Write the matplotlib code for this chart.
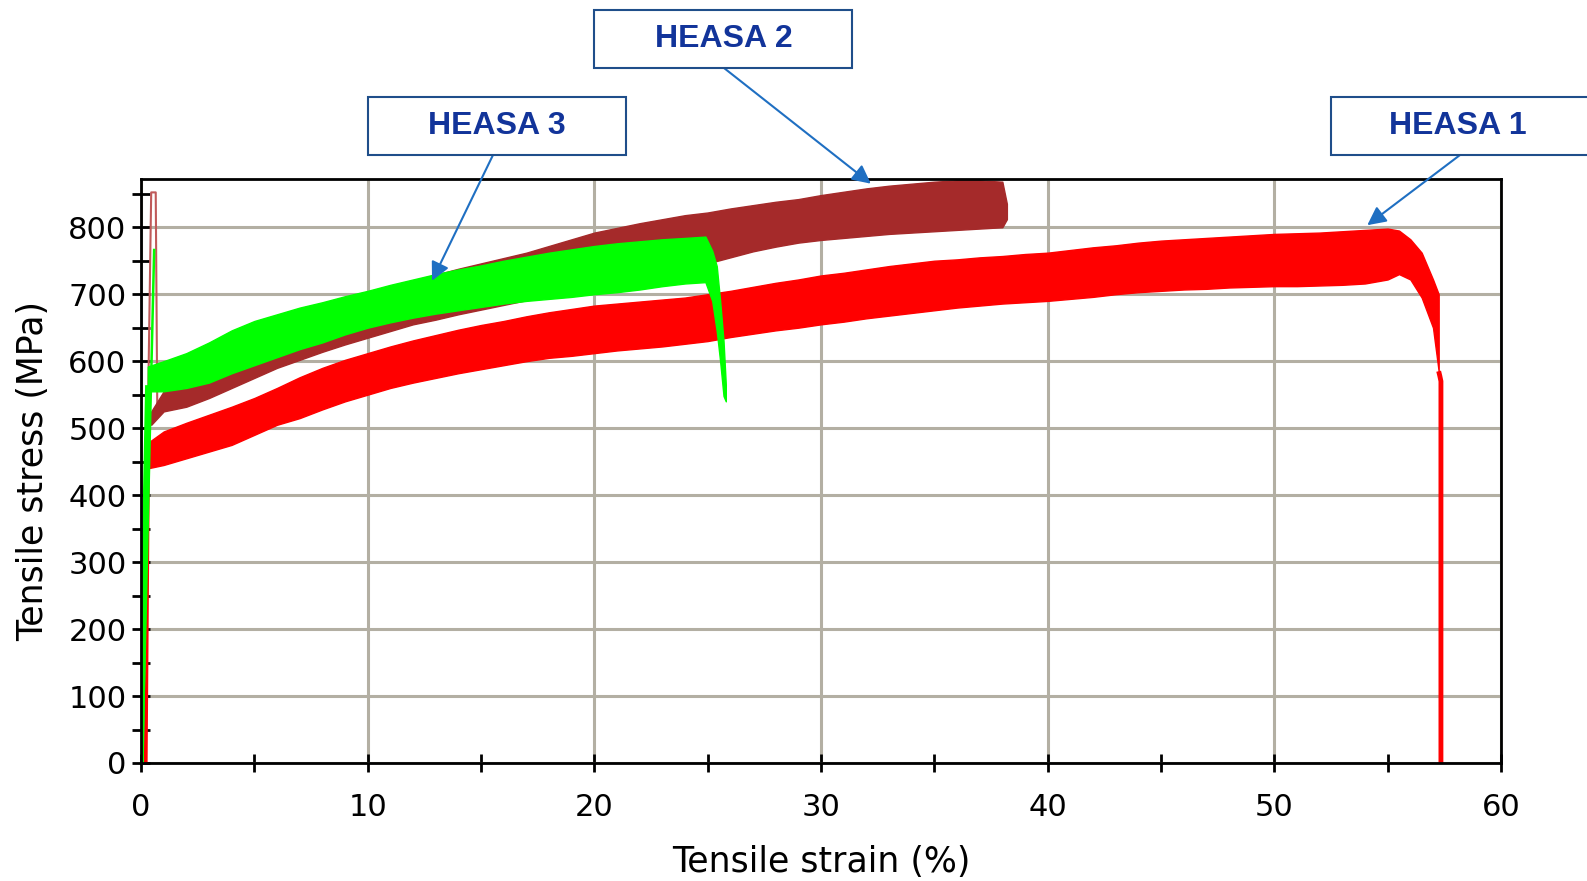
import matplotlib
matplotlib.use("Agg")
import matplotlib.pyplot as plt
from matplotlib.patches import Rectangle
from matplotlib.ticker import MultipleLocator

# ---------------- data ----------------
# HEASA 1 (red) serrated band: strain (%), lower / upper stress (MPa)
h1_strain = [0.3, 1, 2, 3, 4, 5, 6, 7, 8, 9, 10, 11, 12, 13, 14, 15, 16, 17, 18, 19,
             20, 21, 22, 23, 24, 25, 26, 27, 28, 29, 30, 31, 32, 33, 34, 35, 36, 37, 38, 39,
             40, 41, 42, 43, 44, 45, 46, 47, 48, 49, 50, 51, 52, 53, 54, 55, 55.5, 56, 56.5,
             57.0, 57.25]
h1_low = [440, 445, 455, 465, 475, 490, 505, 515, 528, 540, 550, 560, 568, 575, 582, 588,
          594, 600, 605, 608, 612, 616, 619, 622, 626, 630, 636, 641, 646, 650, 655, 659,
          664, 668, 672, 676, 680, 683, 686, 688, 690, 693, 696, 700, 703, 705, 707, 708,
          710, 711, 712, 712, 713, 714, 716, 722, 730, 722, 695, 650, 585]
h1_high = [478, 495, 508, 520, 532, 545, 560, 576, 590, 602, 612, 622, 631, 639, 647, 654,
           660, 667, 673, 678, 683, 686, 689, 692, 695, 700, 705, 711, 717, 722, 728, 732,
           737, 742, 746, 750, 752, 755, 757, 760, 762, 766, 770, 773, 777, 780, 782, 784,
           786, 788, 790, 791, 792, 794, 796, 798, 795, 782, 762, 722, 700]
h1_rise_strain = [0.2, 0.3]
h1_rise_stress = [0, 450]
h1_fail_strain = [57.25, 57.3, 57.35, 57.35]
h1_fail_stress = [585, 578, 570, 0]

# HEASA 2 (brown)
h2_strain = [0.45, 1, 2, 3, 4, 5, 6, 7, 8, 9, 10, 11, 12, 13, 14, 15, 16, 17, 18, 19,
             20, 21, 22, 23, 24, 25, 26, 27, 28, 29, 30, 31, 32, 33, 34, 35, 36, 37, 38, 38.2]
h2_low = [505, 525, 532, 545, 560, 575, 590, 602, 614, 625, 635, 645, 655, 662, 670, 677,
          684, 691, 698, 705, 712, 720, 728, 735, 741, 746, 755, 764, 771, 777, 781, 784,
          787, 790, 792, 794, 796, 798, 800, 812]
h2_high = [525, 555, 575, 590, 605, 620, 638, 653, 668, 683, 697, 709, 720, 729, 738, 746,
           754, 762, 772, 782, 792, 799, 806, 812, 818, 822, 828, 833, 838, 842, 848, 853,
           858, 862, 865, 868, 870, 870, 868, 835]
h2_init_strain = [0.08, 0.45, 0.65, 0.72]
h2_init_stress = [0, 852, 852, 520]

# HEASA 3 (green)
h3_strain = [0.3, 1, 2, 3, 4, 5, 6, 7, 8, 9, 10, 11, 12, 13, 14, 15, 16, 17, 18, 19,
             20, 21, 22, 23, 24, 24.9, 25.2, 25.4, 25.55, 25.7, 25.8]
h3_low = [555, 555, 560, 568, 582, 594, 606, 618, 628, 640, 650, 658, 665, 671, 676, 681,
          686, 690, 693, 696, 700, 703, 707, 712, 716, 718, 690, 645, 600, 548, 540]
h3_high = [592, 600, 612, 628, 646, 660, 670, 680, 688, 697, 705, 714, 722, 730, 737, 743,
           750, 756, 762, 767, 772, 776, 779, 782, 784, 786, 765, 742, 690, 630, 565]
h3_rise_strain = [0.0, 0.15, 0.3]
h3_rise_stress = [0, 300, 560]
h3_thin_strain = [0.05, 0.58]
h3_thin_stress = [0, 766]

x_ticks_major = [0, 10, 20, 30, 40, 50, 60]
y_ticks_major = [0, 100, 200, 300, 400, 500, 600, 700, 800]

labels = ["HEASA 3", "HEASA 2", "HEASA 1"]
# arrow targets in data coordinates (strain, stress)
arrow_targets = [(12.84, 720), (32.2, 865), (54.1, 803)]

# ---------------- figure ----------------
W, H = 1587, 881
fig = plt.figure(figsize=(W / 100, H / 100), dpi=100)
fig.patch.set_facecolor("white")
ax = fig.add_axes([141 / W, 1 - 763 / H, 1360 / W, 584 / H])

RED, BROWN, GREEN = "#ff0000", "#a52a2a", "#00ff00"

# HEASA 1
ax.fill_between(h1_strain, h1_low, h1_high, color=RED, lw=1, zorder=3)
ax.plot(h1_rise_strain, h1_rise_stress, color=RED, lw=3, zorder=3)
ax.plot(h1_fail_strain, h1_fail_stress, color=RED, lw=3.5, zorder=3,
        solid_capstyle="butt")
# HEASA 2
ax.plot(h2_init_strain, h2_init_stress, color="#c05a5a", lw=1.5, zorder=4)
ax.fill_between(h2_strain, h2_low, h2_high, color=BROWN, lw=1, zorder=4)
# HEASA 3
ax.plot(h3_thin_strain, h3_thin_stress, color=GREEN, lw=1.8, zorder=5)
ax.plot(h3_rise_strain, h3_rise_stress, color=GREEN, lw=4, zorder=5)
ax.fill_between(h3_strain, h3_low, h3_high, color=GREEN, lw=1, zorder=5)

ax.set_xlim(0, 60)
ax.set_ylim(0, 872)
ax.set_xticks(x_ticks_major)
ax.set_yticks(y_ticks_major)
ax.xaxis.set_minor_locator(MultipleLocator(5))
ax.yaxis.set_minor_locator(MultipleLocator(50))
ax.grid(which="major", color="#b3afa3", lw=2.2)
ax.set_axisbelow(True)
for s in ax.spines.values():
    s.set_linewidth(2)
    s.set_color("black")
    s.set_zorder(6)
ax.tick_params(which="both", direction="inout", length=13, width=2, colors="black")
ax.tick_params(axis="x", which="major", labelsize=22, pad=15)
ax.tick_params(axis="y", which="major", labelsize=22, pad=4)

ax.set_xlabel("Tensile strain (%)", fontsize=25)
ax.xaxis.label.set_va("center")
ax.xaxis.set_label_coords(0.5, -(862 - 763) / 584)
ax.set_ylabel("Tensile stress (MPa)", fontsize=25)
ax.yaxis.label.set_rotation_mode("default")
ax.yaxis.label.set_va("center")
ax.yaxis.label.set_ha("center")
ax.yaxis.set_label_coords((33 - 141) / 1360, 0.5)

# ---------------- callout boxes ----------------
boxes = [(368, 97, 258, 58), (594, 10, 258, 58), (1331, 97, 262, 58)]  # x0, y0, w, h px
arrow_starts = [(493, 155), (724, 68), (1460, 155)]
text_centers = [(497, 126), (724, 39), (1458, 126)]
BOX_EC, TXT_C, ARR_C = "#1f4e8a", "#12349a", "#1f6fc2"
for (x0, y0, bw, bh), lab, (tx, ty), (sx, sy), tgt in zip(
        boxes, labels, text_centers, arrow_starts, arrow_targets):
    rect = Rectangle((x0 / W, 1 - (y0 + bh) / H), bw / W, bh / H,
                     transform=fig.transFigure, facecolor="white",
                     edgecolor=BOX_EC, lw=1.5, clip_on=False, zorder=10)
    fig.add_artist(rect)
    fig.text(tx / W, 1 - ty / H, lab, ha="center", va="center", fontsize=23,
             fontweight="bold", family="Liberation Sans", color=TXT_C, zorder=11)
    ax.annotate("", xy=tgt, xycoords="data", xytext=(sx / W, 1 - sy / H),
                textcoords="figure fraction", annotation_clip=False,
                arrowprops=dict(arrowstyle="-|>", color=ARR_C, lw=1.5,
                                mutation_scale=28, shrinkA=0, shrinkB=0),
                zorder=12)

fig.savefig("out.png", dpi=100, facecolor="white")
